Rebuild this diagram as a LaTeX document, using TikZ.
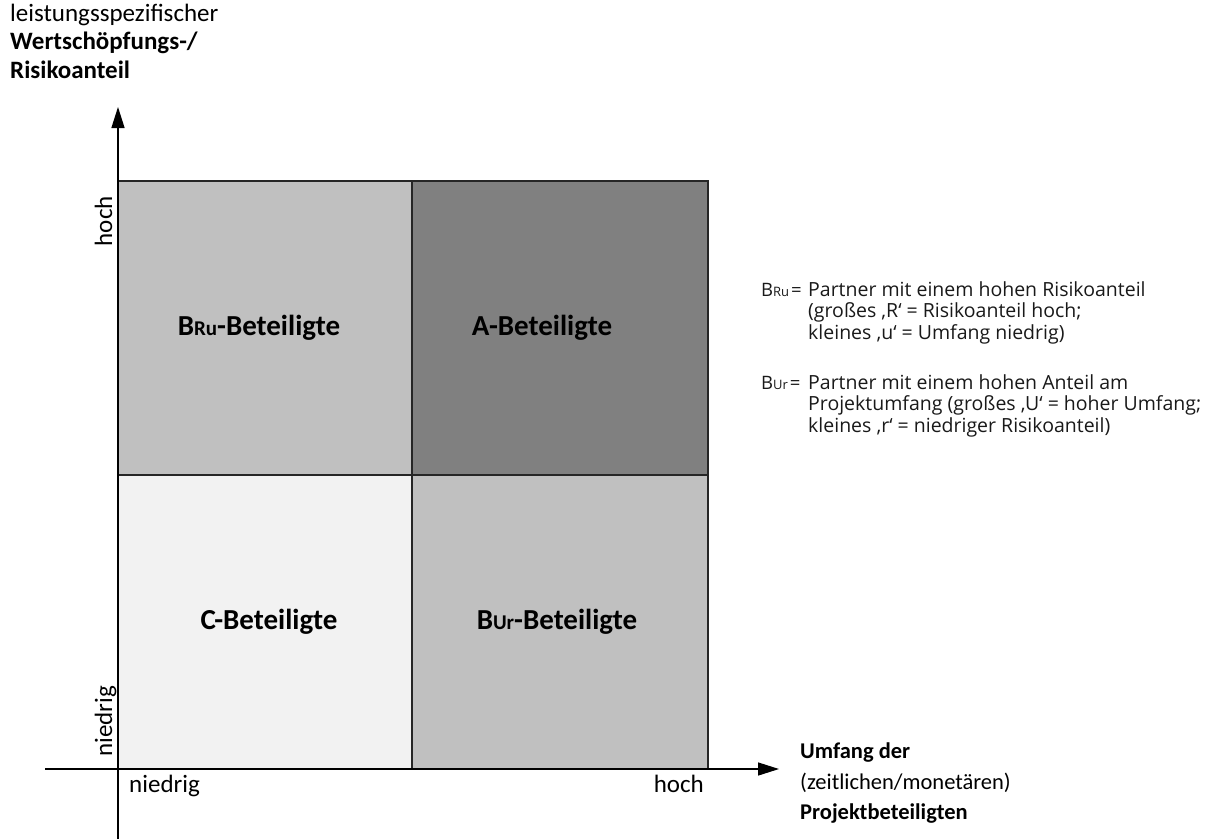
\documentclass[tikz,border=0pt]{standalone}
\usepackage{fontspec}
\setmainfont{Carlito}
\newfontfamily\legendfont{Open Sans}
\usetikzlibrary{arrows.meta}

\definecolor{cellmid}{HTML}{C0C0C0}
\definecolor{celldark}{HTML}{808080}
\definecolor{celllight}{HTML}{F2F2F2}

% index letters set small on the baseline
\newcommand\idx[2]{{\fontsize{#1}{#1}\selectfont #2}}

\begin{document}
\begin{tikzpicture}[x=1pt,y=-1pt,
  cell/.style={draw=black!85, line width=1.2pt, minimum height=294pt, inner sep=0pt},
  celltext/.style={inner sep=0pt, font=\fontsize{29}{34}\selectfont\bfseries},
  axis/.style={line width=1.4pt, -{Triangle[length=21pt,width=13pt]}},
  axistext/.style={font=\fontsize{25}{31}\selectfont, inner sep=0pt, anchor=base west},
  xtext/.style={font=\fontsize{22.5}{28}\selectfont, inner sep=0pt, anchor=base west},
  legend/.style={font=\legendfont\fontsize{19.5}{22}\selectfont, text=black!90, inner sep=0pt, anchor=base west},
  legendkey/.style={legend, font=\legendfont\fontsize{18.5}{22}\selectfont},
]
\useasboundingbox (0,0) rectangle (1220,839);

% the four quadrants
\node[cell, fill=cellmid,   minimum width=294pt] (bru) at (265,328) {};
\node[cell, fill=celldark,  minimum width=296pt] (a)   at (560,328) {};
\node[cell, fill=celllight, minimum width=294pt] (c)   at (265,622) {};
\node[cell, fill=cellmid,   minimum width=296pt] (bur) at (560,622) {};

\node[celltext] (brulabel) at (259,328) {B\idx{21}{Ru}-Beteiligte};
\node[celltext] (alabel)   at (542,328) {A-Beteiligte};
\node[celltext] (clabel)   at (269,622) {C-Beteiligte};
\node[celltext] (burlabel) at (557,622) {B\idx{21}{Ur}-Beteiligte};

% axes
\coordinate (ybot) at (118,839);
\coordinate (ytop) at (118,107);
\coordinate (xleft) at (45,769);
\coordinate (xright) at (779,769);
\draw[axis] (ybot) -- (ytop);
\draw[axis] (xleft) -- (xright);

% vertical axis title
\node[axistext] (yl1) at (10,21) {leistungsspezifischer};
\node[axistext, font=\fontsize{25}{31}\selectfont\bfseries] (yl2) at (10,49) {Wertschöpfungs-/};
\node[axistext, font=\fontsize{25}{31}\selectfont\bfseries] (yl3) at (10,78) {Risikoanteil};

% horizontal axis title
\node[xtext, font=\fontsize{22.5}{28}\selectfont\bfseries] (xl1) at (800,758) {Umfang der};
\node[xtext] (xl2) at (800,789) {(zeitlichen/monetären)};
\node[xtext, font=\fontsize{22.5}{28}\selectfont\bfseries] (xl3) at (800,819) {Projektbeteiligten};

% scale marks
\node[axistext, rotate=90, anchor=base east] (yhigh) at (112,196) {hoch};
\node[axistext, rotate=90, anchor=base west] (ylow) at (112,757) {niedrig};
\node[axistext] (xlow) at (129,792) {niedrig};
\node[axistext, anchor=base east] (xhigh) at (704,792) {hoch};

% legend
\node[legendkey] (kru) at (761,296) {B\idx{13}{Ru}\hspace{2pt}=};
\node[legend] (kru1) at (808,296) {Partner mit einem hohen Risikoanteil};
\node[legend] (kru2) at (808,317.5) {(großes ‚R‘ = Risikoanteil hoch;};
\node[legend] (kru3) at (808,339) {kleines ‚u‘ = Umfang niedrig)};

\node[legendkey] (kur) at (761,389) {B\idx{13}{Ur}\hspace{2pt}=};
\node[legend] (kur1) at (808,389) {Partner mit einem hohen Anteil am};
\node[legend] (kur2) at (808,410.5) {Projektumfang (großes ‚U‘ = hoher Umfang;};
\node[legend] (kur3) at (808,432) {kleines ‚r‘ = niedriger Risikoanteil)};
\end{tikzpicture}
\end{document}
